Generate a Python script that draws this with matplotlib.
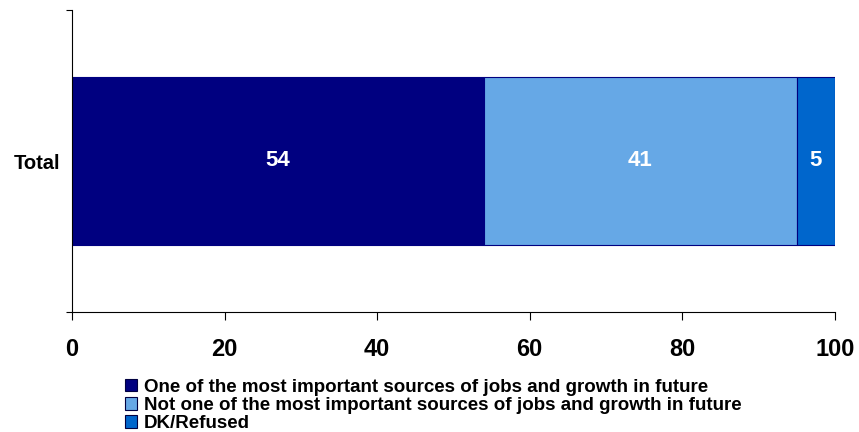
import matplotlib.pyplot as plt
from matplotlib.patches import Patch

plt.rcParams['font.family'] = ['Liberation Sans', 'DejaVu Sans']

categories = ['Total']
series_names = [
	'One of the most important sources of jobs and growth in future',
	'Not one of the most important sources of jobs and growth in future',
	'DK/Refused',
]
series_values = [[54], [41], [5]]
series_colors = ['#000080', '#66A8E6', '#0066CC']
xticks = [0, 20, 40, 60, 80, 100]

fig = plt.figure(figsize=(8.59, 4.32), dpi=100)
ax = fig.add_axes([0.0838, 0.278, 0.888, 0.699])

left = [0] * len(categories)
for name, vals, col in zip(series_names, series_values, series_colors):
	bars = ax.barh(categories, vals, left=left, height=0.555, color=col,
		edgecolor='#000080', linewidth=0.8, label=name)
	for b, v in zip(bars, vals):
		ax.text(b.get_x() + b.get_width() / 2, b.get_y() + b.get_height() / 2, str(v),
			ha='center', va='center', color='white', fontsize=16, fontweight='bold')
	left = [l + v for l, v in zip(left, vals)]

ax.set_xlim(0, 100)
ax.set_ylim(-0.5, 0.5)
ax.set_xticks(xticks)
ax.set_xticklabels([str(t) for t in xticks], fontsize=17, fontweight='bold')
ax.tick_params(axis='x', direction='out', length=6, width=0.8, pad=13)
ax.set_yticks([-0.5, 0.5])
ax.set_yticklabels(['', ''])
ax.tick_params(axis='y', direction='out', length=4, width=0.8)
ax.text(-0.016, 0.49, 'Total', transform=ax.transAxes, ha='right', va='center',
	fontsize=14.5, fontweight='bold')
for s in ['top', 'right']:
	ax.spines[s].set_visible(False)
for s in ['left', 'bottom']:
	ax.spines[s].set_linewidth(0.8)

handles = [Patch(facecolor=c, edgecolor='#000040', linewidth=0.8) for c in series_colors]
fig.legend(handles, series_names, loc='upper left', bbox_to_anchor=(0.1345, 0.145),
	frameon=False, prop={'weight': 'bold', 'size': 13.5}, handlelength=0.65,
	handleheight=0.65, handletextpad=0.35, labelspacing=0.06, borderpad=0)

fig.savefig('out.png', dpi=100)
